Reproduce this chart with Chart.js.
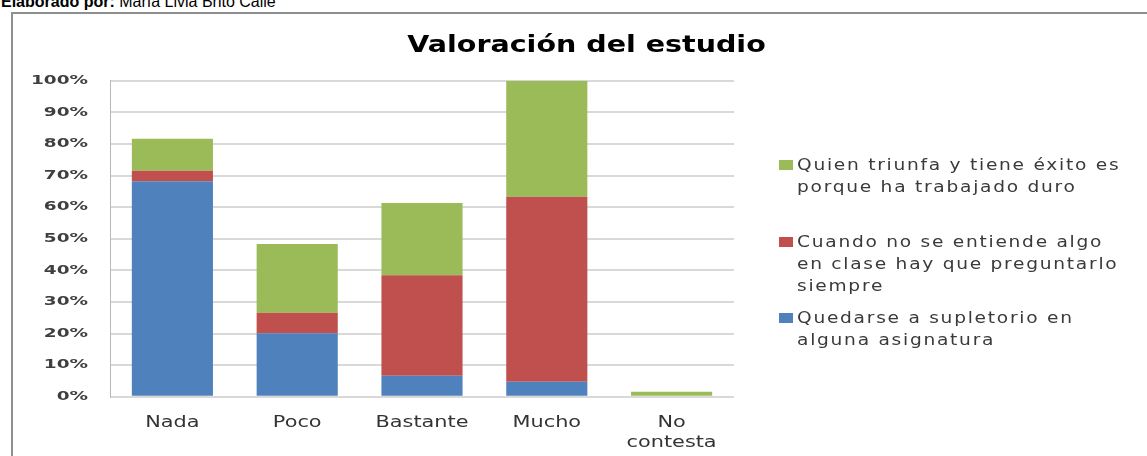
<!DOCTYPE html>
<html>
<head>
<meta charset="utf-8">
<script src="https://cdn.jsdelivr.net/npm/chart.js@4/dist/chart.umd.min.js"></script>
<style>
  html, body { margin: 0; padding: 0; background: #fff; width: 1147px; height: 456px; overflow: hidden; }
  #header { position: absolute; left: 1px; top: -6px; font: 16px/16px "Liberation Sans", Arial, sans-serif; color: #000; white-space: nowrap; }
  #header b { font-weight: bold; }
  #frame { position: absolute; left: 11px; top: 12px; width: 1200px; height: 500px; border: 2px solid #8f8f8f; box-sizing: border-box; }
  #c { position: absolute; left: 0; top: 0; }
  #legend { position: absolute; left: 779px; top: 0; font: 15px/22px "DejaVu Sans", sans-serif; color: #3a3a3a; }
  .item { position: absolute; left: 0; display: flex; white-space: nowrap; }
  .sw { width: 14px; height: 10px; margin-top: 6px; margin-right: 4px; flex: none; }
  .txt { letter-spacing: 1.4px; transform: scaleX(1.24); transform-origin: 0 0; }
</style>
</head>
<body>
<div id="header"><b>Elaborado por:</b> María Livia Brito Calle</div>
<div id="frame"></div>
<canvas id="c" width="1147" height="456"></canvas>
<div id="legend"></div>
<script>
const chartTitle = 'Valoración del estudio';
const categories = ['Nada', 'Poco', 'Bastante', 'Mucho', ['No', 'contesta']];
const seriesNames = [
  'Quedarse a supletorio en\nalguna asignatura',
  'Cuando no se entiende algo\nen clase hay que preguntarlo\nsiempre',
  'Quien triunfa y tiene éxito es\nporque ha trabajado duro'
];
const supletorio = [68.2, 20.1, 6.6, 4.7, 0];
const preguntar = [3.3, 6.5, 31.8, 58.6, 0];
const exito = [10.1, 21.7, 22.9, 36.7, 1.6];
const seriesColors = ['#4F81BD', '#C0504D', '#9BBB59'];
const yTicks = [0, 10, 20, 30, 40, 50, 60, 70, 80, 90, 100];
const legendTops = [307, 231, 154];

// horizontal stretch of canvas text by font size (the reference is a widened picture)
const stretchBySize = { 23: 1.24, 13: 1.42, 16: 1.3 };

const stretchPlugin = {
  id: 'stretchText',
  beforeDraw(chart) {
    const ctx = chart.ctx;
    if (ctx._wrappedStretch) return;
    ctx._wrappedStretch = true;
    const orig = ctx.fillText;
    ctx.fillText = function (text, x, y, maxWidth) {
      const m = /(\d+(?:\.\d+)?)px/.exec(this.font);
      const size = m ? parseFloat(m[1]) : 12;
      const sx = stretchBySize[size] || 1;
      this.save();
      this.translate(x, y);
      this.scale(sx, 1);
      orig.call(this, text, 0, 0);
      this.restore();
    };
  }
};

const seriesData = [supletorio, preguntar, exito];
const datasets = seriesData.map((d, i) => ({
  label: seriesNames[i].replace(/\n/g, ' '),
  data: d,
  backgroundColor: seriesColors[i],
  borderWidth: 0,
  barPercentage: 0.65,
  categoryPercentage: 1.0
}));

new Chart(document.getElementById('c'), {
  type: 'bar',
  data: { labels: categories, datasets },
  options: {
    responsive: false,
    animation: false,
    layout: { padding: { left: 26, right: 0, top: 0, bottom: 0 } },
    plugins: {
      legend: { display: false },
      tooltip: { enabled: false },
      title: {
        display: true,
        text: chartTitle,
        color: '#000',
        font: { family: 'DejaVu Sans', size: 23, weight: 'bold', lineHeight: 1.2 },
        padding: { top: 32, bottom: 21.1 }
      }
    },
    scales: {
      x: {
        stacked: true,
        grid: { display: false },
        border: { display: false },
        ticks: {
          color: '#333',
          font: { family: 'DejaVu Sans', size: 16, lineHeight: 1.25 },
          padding: 8,
          maxRotation: 0,
          autoSkip: false
        },
        afterFit(scale) { scale.height = 59.3; }
      },
      y: {
        stacked: true,
        min: 0,
        max: 100,
        afterBuildTicks(scale) { scale.ticks = yTicks.map(v => ({ value: v })); },
        grid: { color: '#d9d9d9', lineWidth: 2, drawTicks: false },
        border: { display: true, color: '#b8b8b8', width: 1 },
        ticks: {
          color: '#3f3f3f',
          font: { family: 'DejaVu Sans', size: 13, weight: 'bold' },
          padding: 22,
          callback: v => v + '%'
        },
        afterFit(scale) { scale.width = 84; }
      },
      yRight: {
        position: 'right',
        display: true,
        grid: { display: false },
        border: { display: false },
        ticks: { display: false },
        afterFit(scale) { scale.width = 413; }
      }
    }
  },
  plugins: [stretchPlugin]
});

// HTML legend (reverse order like the reference)
const legendEl = document.getElementById('legend');
seriesNames.forEach((name, i) => {
  const item = document.createElement('div');
  item.className = 'item';
  item.style.top = legendTops[i] + 'px';
  const sw = document.createElement('div');
  sw.className = 'sw';
  sw.style.background = seriesColors[i];
  const txt = document.createElement('div');
  txt.className = 'txt';
  txt.innerHTML = name.split('\n').map(s => s.replace(/&/g, '&amp;').replace(/</g, '&lt;')).join('<br>');
  item.appendChild(sw);
  item.appendChild(txt);
  legendEl.appendChild(item);
});
</script>
</body>
</html>
